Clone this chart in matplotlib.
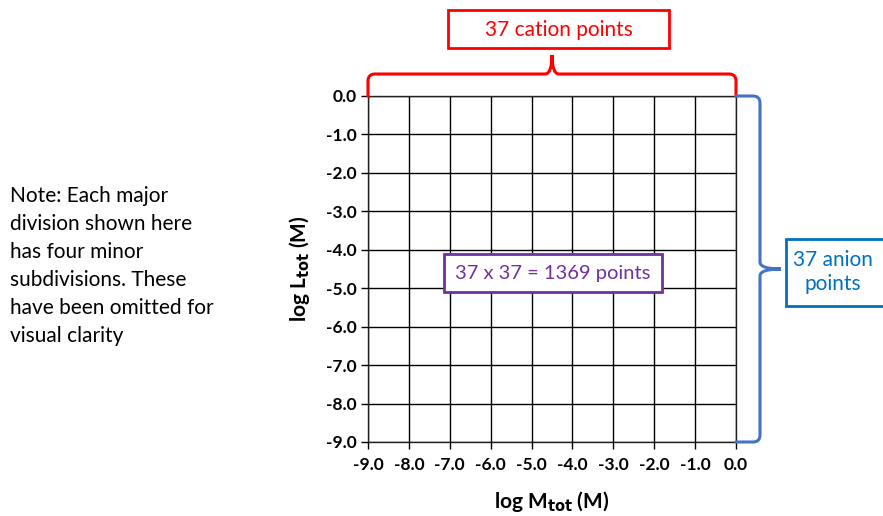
import numpy as np
import matplotlib.pyplot as plt
from matplotlib.path import Path
from matplotlib.patches import PathPatch, Rectangle

plt.rcParams['font.family'] = ['Lato', 'DejaVu Sans']

# grid range (log units) and point counts
log_m = [-9.0, -8.0, -7.0, -6.0, -5.0, -4.0, -3.0, -2.0, -1.0, 0.0]
log_l = [-9.0, -8.0, -7.0, -6.0, -5.0, -4.0, -3.0, -2.0, -1.0, 0.0]
n_cation = 37
n_anion = 37
note = ("Note: Each major\ndivision shown here\nhas four minor\n"
        "subdivisions. These\nhave been omitted for\nvisual clarity")

W, H = 883, 516
fig = plt.figure(figsize=(W / 100, H / 100), dpi=100)

ax = fig.add_axes([368 / W, 1 - 442 / H, 368 / W, 346 / H])
ax.set_xlim(min(log_m), max(log_m))
ax.set_ylim(min(log_l), max(log_l))
ax.set_xticks(log_m)
ax.set_yticks(log_l)
ax.set_xticklabels([f"{v:.1f}" for v in log_m], fontweight='bold', fontsize=12.5)
ax.set_yticklabels([f"{v:.1f}" for v in log_l], fontweight='bold', fontsize=12.5)
ax.tick_params(direction='out', length=5, width=1, color='black')
ax.tick_params(axis='x', pad=6)
ax.tick_params(axis='y', pad=3)
ax.grid(True, color='black', lw=1)
for s in ax.spines.values():
    s.set_color('#222222')
    s.set_linewidth(1)
ax.set_xlabel("log M$_{\\mathbf{tot}}$ (M)", fontweight='bold', fontsize=15, labelpad=11)
ax.set_ylabel("log L$_{\\mathbf{tot}}$ (M)", fontweight='bold', fontsize=15, labelpad=10)

# overlay in pixel coordinates for braces and call-out boxes
ov = fig.add_axes([0, 0, 1, 1], zorder=5)
ov.set_xlim(0, W)
ov.set_ylim(H, 0)
ov.axis('off')
ov.patch.set_alpha(0)

pos = ax.get_position()
px0, px1 = pos.x0 * W, pos.x1 * W
py0, py1 = (1 - pos.y1) * H, (1 - pos.y0) * H


def brace_h(x0, x1, yb, yl, yt, r):
    xm = (x0 + x1) / 2
    d = np.sign(yb - yl) * r
    verts = [(x0, yb), (x0, yl + d), (x0, yl), (x0 + r, yl),
             (xm - r, yl), (xm, yl), (xm, yt),
             (xm, yl), (xm + r, yl), (x1 - r, yl),
             (x1, yl), (x1, yl + d), (x1, yb)]
    codes = [Path.MOVETO, Path.LINETO, Path.CURVE3, Path.CURVE3,
             Path.LINETO, Path.CURVE3, Path.CURVE3,
             Path.CURVE3, Path.CURVE3, Path.LINETO,
             Path.CURVE3, Path.CURVE3, Path.LINETO]
    return Path(verts, codes)


def brace_v(y0, y1, xb, xl, xt, r):
    p = brace_h(y0, y1, xb, xl, xt, r)
    return Path(p.vertices[:, ::-1], p.codes)


ov.add_patch(PathPatch(brace_h(px0, px1, py0, 74, 55, 7), fc='none',
                       ec='#FF0000', lw=2.2, capstyle='round'))
ov.add_patch(PathPatch(brace_v(py0, py1, px1, 760, 781, 7), fc='none',
                       ec='#4472C4', lw=2.2, capstyle='round'))

# call-out boxes
ov.add_patch(Rectangle((448, 10), 221, 38, fc='white', ec='#FF0000', lw=2))
ov.text(559, 29.5, f"{n_cation} cation points", color='#FF0000',
        fontsize=15, ha='center', va='center')

ov.add_patch(Rectangle((786, 239), 120, 67, fc='white', ec='#0070C0', lw=2))
ov.text(833, 272, f"{n_anion} anion\npoints", color='#0070C0',
        fontsize=15, ha='center', va='center', linespacing=1.2)

ov.add_patch(Rectangle((444, 254), 218, 38, fc='white', ec='#7030A0', lw=2))
ov.text(553, 273, f"{n_cation} x {n_anion} = {n_cation * n_anion} points",
        color='#7030A0', fontsize=14.5, ha='center', va='center')

ov.text(10, 186, note, color='black', fontsize=15, ha='left', va='top',
        linespacing=1.5)

fig.savefig('out.png', dpi=100)
